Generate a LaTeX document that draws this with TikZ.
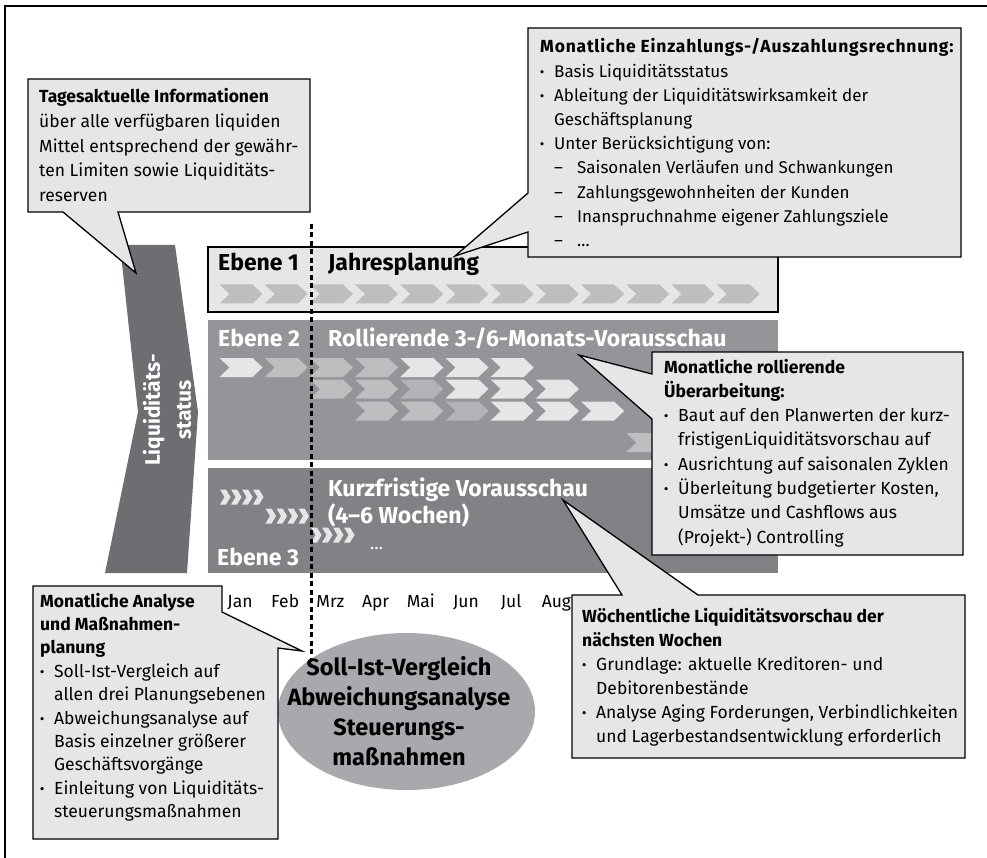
\documentclass[tikz,border=0pt]{standalone}
\usepackage{fontspec}
\setmainfont{Fira Sans}
\usetikzlibrary{shapes.geometric}

\definecolor{calloutfill}{HTML}{E6E6E6}
\definecolor{chevlight}{HTML}{E6E6E6}
\definecolor{chevmid}{HTML}{BCBEC0}
\definecolor{chevdark}{HTML}{B1B3B6}
\definecolor{bandtwo}{HTML}{939598}
\definecolor{bandthree}{HTML}{808285}
\definecolor{statusgray}{HTML}{6D6E71}
\definecolor{ellgray}{HTML}{A7A9AC}

% list markers for the callout texts
\newcommand\bitem{\makebox[14pt][l]{\textbf{·}}}
\newcommand\bcont{\hspace*{14pt}}
\newcommand\ditem{\hspace*{14pt}\makebox[23pt][l]{–}}
% callout text block: font size, width, baselineskip, lines
\newcommand\calltextsz[4]{\parbox[t]{#2}{\fontsize{#1}{#3}\selectfont\raggedright #4}}
\newcommand\calltext[3]{\calltextsz{17.5}{#1}{#2}{#3}}

% large chevron: left x, centre y, colour
\newcommand\bigchev[3]{\fill[#3] (#1,#2-9.5) -- ++(33,0) -- ++(10,9.5) -- ++(-10,9.5) -- ++(-33,0) -- ++(10,-9.5) -- cycle;}
% small chevron: left x, centre y
\newcommand\smallchev[2]{\fill[chevlight] (#1,#2-7.5) -- ++(6,0) -- ++(4.5,7.5) -- ++(-4.5,7.5) -- ++(-6,0) -- ++(4.5,-7.5) -- cycle;}

\begin{document}
\begin{tikzpicture}[x=1pt,y=-1pt,
  callout/.style={fill=calloutfill, draw=black, line width=1.3pt, line join=miter},
  bandlabel/.style={anchor=base west, inner sep=0, font=\fontsize{23}{27}\selectfont\bfseries},
  month/.style={anchor=base, inner sep=0, font=\fontsize{17.5}{20}\selectfont},
  calltxt/.style={anchor=base west, inner sep=0}
]
\useasboundingbox (0,0) rectangle (987,858);

% outer frame
\draw[line width=1.5pt] (5,870) -- (5,6) -- (1000,6);

% planning levels
\filldraw[fill=calloutfill, draw=black, line width=1.3pt] (208,247) rectangle (778,312);
\fill[bandtwo] (208,320) rectangle (778,460);
\fill[bandthree] (208,468) rectangle (778,573);

% level 1 chevrons
\foreach \i in {0,...,11} {\bigchev{219.5+45.2*\i}{294}{chevmid}}
% level 2 chevrons
\foreach \i/\c in {0/chevlight,1/chevmid,2/chevmid,3/chevmid,4/chevlight,5/chevlight,6/chevlight}
  {\bigchev{219.5+45.2*\i}{367.5}{\c}}
\foreach \i/\c in {2/chevmid,3/chevmid,4/chevdark,5/chevlight,6/chevlight,7/chevlight}
  {\bigchev{219.5+45.2*\i}{389}{\c}}
\foreach \i/\c in {3/chevmid,4/chevmid,5/chevdark,6/chevlight,7/chevlight,8/chevlight}
  {\bigchev{219.5+45.2*\i}{411}{\c}}
\bigchev{219.5+45.2*9}{442.5}{chevmid}
% level 3 weekly chevrons
\foreach \g/\y in {0/497,1/516,2/535}
  \foreach \j in {0,...,3} {\smallchev{220+45.5*\g+11*\j}{\y}}

% level labels
\node[bandlabel] (e1) at (218,271) {Ebene 1};
\node[bandlabel] (t1) at (328,271) {Jahresplanung};
\node[bandlabel, text=white] (e2) at (218,346) {Ebene 2};
\node[bandlabel, text=white] (t2) at (328,346) {Rollierende 3-/6-Monats-Vorausschau};
\node[bandlabel, text=white] (t3) at (328,496)
  {\parbox[t]{300pt}{\fontsize{23}{27}\selectfont\bfseries Kurzfristige Vorausschau\\(4–6 Wochen)}};
\node[anchor=base west, inner sep=0, text=white, font=\fontsize{17.5}{20}\selectfont] (dots) at (370,549) {…};
\node[bandlabel, text=white] (e3) at (217,565) {Ebene 3};

% liquidity status arrow
\fill[statusgray] (120,245) -- (175,245) -- (198,412) -- (187,573) -- (105,573) -- (138,412) -- cycle;
\node[rotate=90, align=center, text=white, inner sep=0,
      font=\fontsize{21}{31}\selectfont\bfseries] (status) at (167,410) {Liquiditäts-\\status};

% months
\foreach \m [count=\k from 0] in {Jan,Feb,Mrz,Apr,Mai,Jun,Jul,Aug}
  \node[month] (m\k) at (240+45.2*\k,607) {\m};

% today marker
\coordinate (divtop) at (311,224);
\coordinate (divbot) at (311,668);
\draw[line width=3pt, dash pattern=on 5pt off 3.5pt] (divtop) -- (divbot);

% target/actual comparison
\node[ellipse, fill=ellgray, minimum width=257pt, minimum height=157pt, inner sep=0] (ell) at (406.5,711.5) {};
\node[align=center, inner sep=0, font=\fontsize{23.5}{30}\selectfont\bfseries] (elltext) at (399,711.5)
  {Soll-Ist-Vergleich\\Abweichungsanalyse\\Steuerungs-\\maßnahmen};

% callouts
\draw[callout] (28,79) -- (310,79) -- (310,212) -- (118,212) -- (136,273) -- (63,212) -- (28,212) -- cycle;
\node[calltxt] (infotext) at (39,103) {\calltext{268pt}{24.6}{%
  \textbf{Tagesaktuelle Informationen}\\
  über alle verfügbaren liquiden\\
  Mittel entsprechend der gewähr-\\
  ten Limiten sowie Liquiditäts-\\
  reserven}};

\draw[callout] (528,28) -- (961,28) -- (961,257) -- (528,257) -- (528,232) -- (455,256) -- (528,193) -- cycle;
\node[calltxt] (yeartext) at (540,53) {\calltextsz{17}{440pt}{24.2}{%
  \mbox{\fontsize{17.5}{24.2}\selectfont\bfseries\addfontfeature{LetterSpace=4.5}Monatliche Einzahlungs-/Auszahlungsrechnung:}\\
  \bitem Basis Liquiditätsstatus\\
  \bitem Ableitung der Liquiditätswirksamkeit der\\
  \bcont Geschäftsplanung\\
  \bitem Unter Berücksichtigung von:\\
  \ditem Saisonalen Verläufen und Schwankungen\\
  \ditem Zahlungsgewohnheiten der Kunden\\
  \ditem Inanspruchnahme eigener Zahlungsziele\\
  \ditem …}};

\draw[callout] (652,352) -- (963,352) -- (963,555) -- (652,555) -- (652,419) -- (579,355) -- (652,374) -- cycle;
\node[calltxt] (rolltext) at (664,373) {\calltext{295pt}{24.3}{%
  \textbf{Monatliche rollierende}\\
  \textbf{Überarbeitung:}\\
  \bitem Baut auf den Planwerten der kurz-\\
  \bcont fristigenLiquiditätsvorschau auf\\
  \bitem Ausrichtung auf saisonalen Zyklen\\
  \bitem Überleitung budgetierter Kosten,\\
  \bcont Umsätze und Cashflows aus\\
  \bcont (Projekt-) Controlling}};

\draw[callout] (572,595) -- (622,595) -- (563,500) -- (698,595) -- (965,595) -- (965,758) -- (572,758) -- cycle;
\node[calltxt] (weektext) at (582,622) {\calltext{380pt}{24}{%
  \textbf{Wöchentliche Liquiditätsvorschau der}\\
  \textbf{nächsten Wochen}\\
  \bitem Grundlage: aktuelle Kreditoren- und\\
  \bcont Debitorenbestände\\
  \bitem Analyse Aging Forderungen, Verbindlichkeiten\\
  \bcont und Lagerbestandsentwicklung erforderlich}};

\draw[callout] (33,586) -- (222,586) -- (222,612) -- (302,651) -- (278,648) -- (278,839) -- (33,839) -- cycle;
\node[calltxt] (analysistext) at (40,607) {\calltext{235pt}{23.4}{%
  \textbf{Monatliche Analyse}\\
  \textbf{und Maßnahmen-}\\
  \textbf{planung}\\
  \bitem Soll-Ist-Vergleich auf\\
  \bcont allen drei Planungsebenen\\
  \bitem Abweichungsanalyse auf\\
  \bcont Basis einzelner größerer\\
  \bcont Geschäftsvorgänge\\
  \bitem Einleitung von Liquiditäts-\\
  \bcont steuerungsmaßnahmen}};

\end{tikzpicture}
\end{document}
